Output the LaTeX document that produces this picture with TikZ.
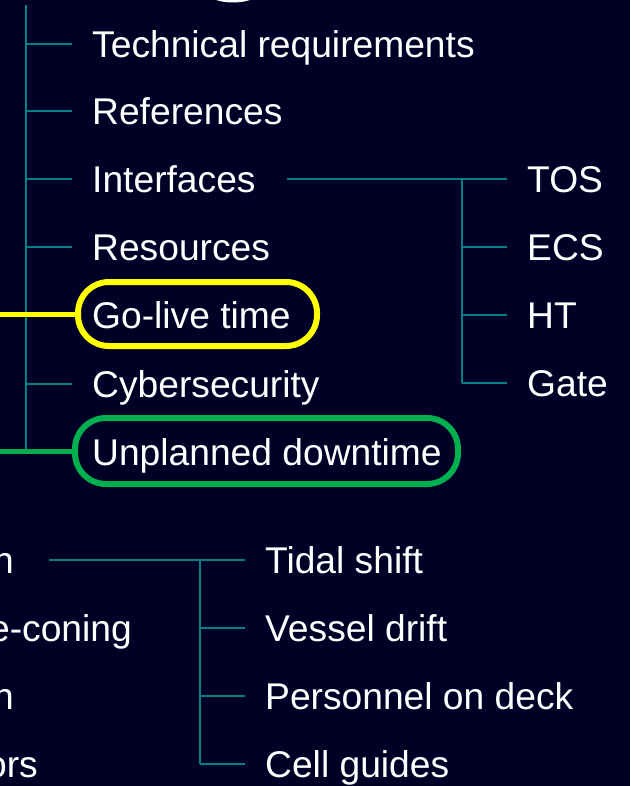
\documentclass[tikz,border=0pt]{standalone}
\usepackage{fontspec}
\setmainfont{Liberation Sans}
\definecolor{bgnavy}{RGB}{0,0,38}
\definecolor{tealline}{RGB}{0,128,132}
\definecolor{hlyellow}{RGB}{255,255,0}
\definecolor{hlgreen}{RGB}{0,176,80}
\begin{document}
\begin{tikzpicture}[x=1pt,y=-1pt,
  lbl/.style={anchor=west,inner sep=0pt,text height=26.6pt,text depth=0pt,text=white,font=\fontsize{37.2pt}{44pt}\selectfont},
  frag/.style={lbl,anchor=east},
  branch/.style={draw=tealline,line width=1.5pt},
  hlbox/.style={draw=#1,line width=6pt,rounded corners=31pt,inner sep=0pt},
  hlline/.style={draw=#1,line width=5pt}]
\fill[bgnavy] (0,0) rectangle (630,786);
\useasboundingbox (0,0) rectangle (630,786);
\begin{scope}
\clip (0,0) rectangle (630,786);
% partial shape at the top edge
\draw[white,line width=3pt] (233,-58) circle (59);

% upper list
\node[lbl] (tech)  at (92,44)  {Technical requirements};
\node[lbl] (refs)  at (92,111) {References};
\node[lbl] (intf)  at (92,179) {Interfaces};
\node[lbl] (res)   at (92,247) {Resources};
\node[lbl] (golive) at (92,315) {Go-live time};
\node[lbl] (cyber) at (92,384) {Cybersecurity};
\node[lbl] (unpl)  at (92,452) {Unplanned downtime};

\coordinate (trunktop) at (26,5);
\coordinate (trunkbot) at (26,452);
\draw[branch] (trunktop) -- (trunkbot);
\foreach \n in {tech,refs,intf,res,cyber}
  \draw[branch] (trunktop |- \n.west) -- ([xshift=-20pt]\n.west);

% interfaces sub-list
\node[lbl] (tos)  at (527,179) {TOS};
\node[lbl] (ecs)  at (527,247) {ECS};
\node[lbl] (ht)   at (527,315) {HT};
\node[lbl] (gate) at (527,383) {Gate};
\coordinate (ifork) at (462,179);
\coordinate (istart) at (287,179);
\draw[branch] (istart) -- ([xshift=-20pt]tos.west);
\draw[branch] (ifork) -- (ifork |- gate.west);
\foreach \n in {ecs,ht,gate}
  \draw[branch] (ifork |- \n.west) -- ([xshift=-20pt]\n.west);

% highlighted items
\node[hlbox=hlyellow,minimum width=239pt,minimum height=64pt] (goliveBox) at (197.5,314) {};
\node[hlbox=hlgreen,minimum width=383pt,minimum height=66pt] (unplBox) at (266.5,451) {};
\coordinate (yin) at (0,314);
\coordinate (gin) at (0,451);
\draw[hlline=hlyellow] (yin) -- (goliveBox.west);
\draw[hlline=hlgreen] (gin) -- (unplBox.west);

% lower section
\node[frag] (fa) at (14,560)  {n};
\node[frag] (fb) at (132,628) {e-coning};
\node[frag] (fc) at (14,696)  {n};
\node[frag] (fd) at (38,764)  {ors};

\node[lbl] (tidal) at (265,560) {Tidal shift};
\node[lbl] (drift) at (265,628) {Vessel drift};
\node[lbl] (pers)  at (265,696) {Personnel on deck};
\node[lbl] (cell)  at (265,764) {Cell guides};
\coordinate (lfork) at (200,560);
\coordinate (lstart) at (49,560);
\draw[branch] (lstart) -- ([xshift=-20pt]tidal.west);
\draw[branch] (lfork) -- (lfork |- cell.west);
\foreach \n in {drift,pers,cell}
  \draw[branch] (lfork |- \n.west) -- ([xshift=-20pt]\n.west);
\end{scope}
\end{tikzpicture}
\end{document}
